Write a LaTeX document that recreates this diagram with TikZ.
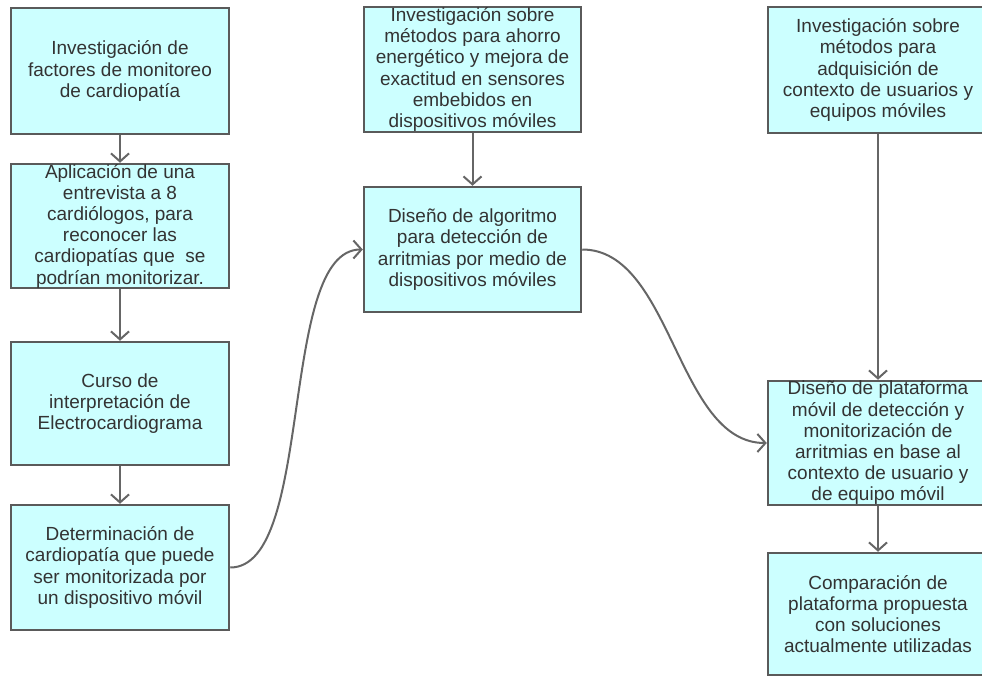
\documentclass[tikz,border=0pt]{standalone}
\usepackage{fontspec}
\setmainfont{Liberation Sans}
\usetikzlibrary{arrows.meta,calc}
\definecolor{boxfill}{HTML}{CCFFFF}
\definecolor{boxline}{HTML}{5A5A5A}
\definecolor{conncol}{HTML}{666666}
\definecolor{txtcol}{HTML}{333333}
\tikzset{
  box/.style={draw=boxline, fill=boxfill, line width=2.5pt, rectangle, inner sep=0pt, minimum width=218pt, minimum height=125pt},
  txt/.style={inner sep=0pt, align=center, text=txtcol, font=\fontsize{19}{21.2}\selectfont},
  conn/.style={draw=conncol, line width=2pt, -{Straight Barb[length=8pt,width=18pt,line width=2pt]}},
}
\begin{document}
\begin{tikzpicture}[x=1pt,y=-1pt]
\useasboundingbox (0,0) rectangle (982,677);
% left column
\node[box, minimum height=126pt] (L1) at (120,71) {};
\node[txt] (tL1) at (L1) {Investigación de\\factores de monitoreo\\de cardiopatía};
\node[box, minimum height=124pt] (L2) at (120,226) {};
\node[txt] (tL2) at (L2) {Aplicación de una\\entrevista a 8\\cardiólogos, para\\reconocer las\\cardiopatías que\ \ se\\podrían monitorizar.};
\node[box, minimum height=123pt] (L3) at (120,403.5) {};
\node[txt] (tL3) at (L3) {Curso de\\interpretación de\\Electrocardiograma};
\node[box, minimum height=125pt] (L4) at (120,567.5) {};
\node[txt] (tL4) at (L4) {Determinación de\\cardiopatía que puede\\ser monitorizada por\\un dispositivo móvil};
% middle column
\node[box, minimum width=217pt] (MA) at (472.5,69.5) {};
\node[txt] (tMA) at (MA) {Investigación sobre\\métodos para ahorro\\energético y mejora de\\exactitud en sensores\\embebidos en\\dispositivos móviles};
\node[box, minimum width=217pt] (MB) at (472.5,249.5) {};
\node[txt] (tMB) at (MB) {Diseño de algoritmo\\para detección de\\arritmias por medio de\\dispositivos móviles};
% right column
\node[box, minimum width=220pt, minimum height=126pt] (R1) at (878,70) {};
\node[txt] (tR1) at (R1) {Investigación sobre\\métodos para\\adquisición de\\contexto de usuarios y\\equipos móviles};
\node[box, minimum width=220pt, minimum height=124pt] (R2) at (878,443) {};
\node[txt] (tR2) at (R2) {Diseño de plataforma\\móvil de detección y\\monitorización de\\arritmias en base al\\contexto de usuario y\\de equipo móvil};
\node[box, minimum width=220pt, minimum height=122pt] (R3) at (878,614) {};
\node[txt] (tR3) at (R3) {Comparación de\\plataforma propuesta\\con soluciones\\actualmente utilizadas};
% connectors
\draw[conn] (L1.south) -- (L2.north);
\draw[conn] (L2.south) -- (L3.north);
\draw[conn] (L3.south) -- (L4.north);
\draw[conn] (MA.south) -- (MB.north);
\draw[conn] (R1.south) -- (R2.north);
\draw[conn] (R2.south) -- (R3.north);
\draw[conn] (L4.east) .. controls ($(L4.east)+(85,0)$) and ($(MB.west)+(-85,0)$) .. (MB.west);
\draw[conn] (MB.east) .. controls ($(MB.east)+(90,0)$) and ($(R2.west)+(-90,0)$) .. (R2.west);
\end{tikzpicture}
\end{document}
